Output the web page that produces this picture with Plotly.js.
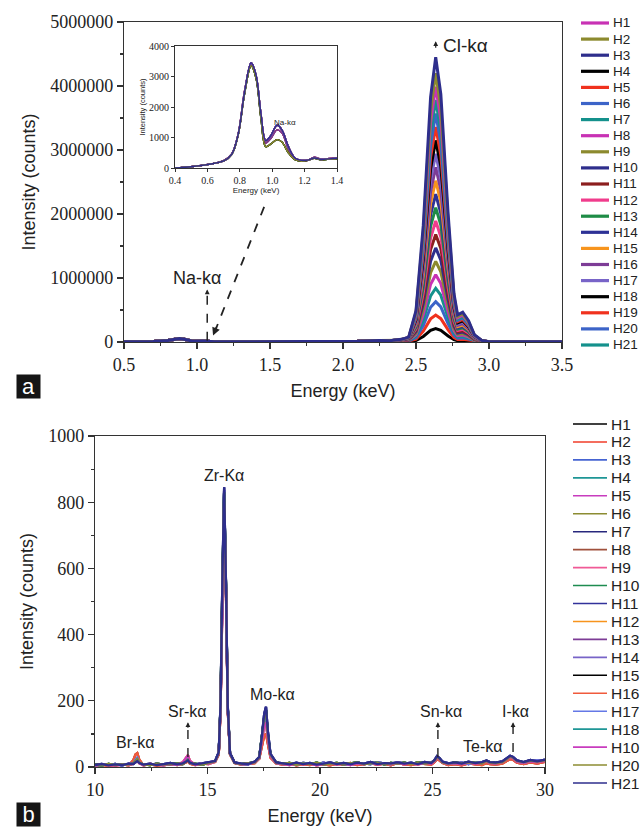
<!DOCTYPE html>
<html><head><meta charset="utf-8">
<script src="https://cdn.plot.ly/plotly-3.0.1.min.js"></script>
<style>html,body{margin:0;padding:0;background:#fff}#chart{width:642px;height:829px}</style>
</head><body><div id="chart"></div>
<script>
// ---------- Panel a : energies (keV) and intensities (thousand counts) ----------
const E_A = [0.5,0.7,0.8,0.85,0.88,0.92,0.97,1.04,1.12,1.3,1.8,2.1,2.25,2.32,2.40,2.45,2.50,2.55,2.60,2.635,2.67,2.72,2.76,2.785,2.82,2.86,2.90,2.95,3.0,3.5];
const A_H1  = [2,8,25,50,55,40,12,15,5,4,6,10,22,20,40,70,439,1636,3431,3990,3471,1796,678,379,419,299,103,23,3,2];
const A_H2  = [2,8,25,50,55,40,12,15,5,4,6,10,22,20,41,73,462,1722,3612,4200,3654,1890,714,399,441,315,108,24,3,2];
const A_H3  = [2,8,25,50,55,40,12,15,5,4,6,10,22,20,42,77,490,1825,3827,4450,3872,2003,757,423,467,334,114,25,3,2];
const A_H4  = [2,8,25,50,55,40,12,15,5,4,6,10,22,20,21,13,23,86,181,210,183,95,36,20,22,16,8,4,3,2];
const A_H5  = [2,8,25,50,55,40,12,15,5,4,6,10,22,20,22,16,46,172,361,420,365,189,71,40,44,32,14,5,3,2];
const A_H6  = [2,8,25,50,55,40,12,15,5,4,6,10,22,20,23,19,69,258,542,630,548,284,107,60,66,47,19,6,3,2];
const A_H7  = [2,8,25,50,55,40,12,15,5,4,6,10,22,20,24,23,92,344,722,840,731,378,143,80,88,63,24,7,3,2];
const A_H8  = [2,8,25,50,55,40,12,15,5,4,6,10,22,20,25,26,116,431,903,1050,914,473,179,100,110,79,29,8,3,2];
const A_H9  = [2,8,25,50,55,40,12,15,5,4,6,10,22,20,26,29,139,517,1084,1260,1096,567,214,120,132,95,35,9,3,2];
const A_H10 = [2,8,25,50,55,40,12,15,5,4,6,10,22,20,27,32,162,603,1264,1470,1279,662,250,140,154,110,40,10,3,2];
const A_H11 = [2,8,25,50,55,40,12,15,5,4,6,10,22,20,28,35,185,689,1445,1680,1462,756,286,160,176,126,45,11,3,2];
const A_H12 = [2,8,25,50,55,40,12,15,5,4,6,10,22,20,29,38,208,775,1625,1890,1644,851,321,180,198,142,50,12,3,2];
const A_H13 = [2,8,25,50,55,40,12,15,5,4,6,10,22,20,30,42,231,861,1806,2100,1827,945,357,200,221,158,56,14,3,2];
const A_H14 = [2,8,25,50,55,40,12,15,5,4,6,10,22,20,32,45,254,947,1987,2310,2010,1040,393,219,243,173,61,15,3,2];
const A_H15 = [2,8,25,50,55,40,12,15,5,4,6,10,22,20,33,48,277,1033,2167,2520,2192,1134,428,239,265,189,66,16,3,2];
const A_H16 = [2,8,25,50,55,40,12,15,5,4,6,10,22,20,34,51,300,1119,2348,2730,2375,1229,464,259,287,205,71,17,3,2];
const A_H17 = [2,8,25,50,55,40,12,15,5,4,6,10,22,20,35,54,323,1205,2528,2940,2558,1323,500,279,309,221,77,18,3,2];
const A_H18 = [2,8,25,50,55,40,12,15,5,4,6,10,22,20,36,57,347,1292,2709,3150,2741,1418,536,299,331,236,82,19,3,2];
const A_H19 = [2,8,25,50,55,40,12,15,5,4,6,10,22,20,37,60,370,1378,2890,3360,2923,1512,571,319,353,252,87,20,3,2];
const A_H20 = [2,8,25,50,55,40,12,15,5,4,6,10,22,20,38,64,393,1464,3070,3570,3106,1607,607,339,375,268,92,21,3,2];
const A_H21 = [2,8,25,50,55,40,12,15,5,4,6,10,22,20,39,67,416,1550,3251,3780,3289,1701,643,359,397,284,98,22,3,2];
const A_SERIES = [A_H1,A_H2,A_H3,A_H4,A_H5,A_H6,A_H7,A_H8,A_H9,A_H10,A_H11,A_H12,A_H13,A_H14,A_H15,A_H16,A_H17,A_H18,A_H19,A_H20,A_H21];
const A_NAMES = ['H1','H2','H3','H4','H5','H6','H7','H8','H9','H10','H11','H12','H13','H14','H15','H16','H17','H18','H19','H20','H21'];
const A_COLORS = ['#c832b4','#8c8a2e','#2e2e8c','#000000','#f0321e','#3c64c8','#14918c','#c832b4','#8c8a2e','#2e2e8c','#8c1e1e','#f03c8c','#1e8c46','#2e3296','#f7941d','#7d3c96','#7864c8','#000000','#f0321e','#3c64c8','#14918c'];

// ---------- Inset (Na region), counts ----------
const E_IN = [0.4,0.5,0.6,0.7,0.75,0.79,0.83,0.87,0.9,0.93,0.96,0.99,1.03,1.06,1.1,1.14,1.18,1.22,1.26,1.3,1.35,1.4];
const IN_HI  = [0,40,110,230,450,1100,2500,3450,3050,1800,900,1050,1400,1250,700,330,250,260,330,280,300,320];
const IN_MID = [0,45,115,240,460,1120,2550,3400,3000,1750,820,960,1250,1150,620,300,240,255,350,290,310,330];
const IN_LO  = [0,40,110,230,440,1080,2450,3350,2950,1650,700,780,930,850,500,270,220,250,320,270,290,300];
const IN_OF_SERIES = [IN_HI,IN_LO,IN_HI,IN_LO,IN_HI,IN_MID,IN_HI,IN_MID,IN_LO,IN_HI,IN_MID,IN_HI,IN_LO,IN_HI,IN_HI,IN_MID,IN_HI,IN_LO,IN_HI,IN_HI,IN_HI];

// ---------- Panel b : energies (keV) and counts ----------
const E_B = [10.0,10.3,10.6,10.9,11.2,11.5,11.7,11.8,11.88,11.97,12.15,12.45,12.75,13.05,13.35,13.65,13.9,14.04,14.13,14.22,14.45,14.75,15.05,15.34,15.5,15.58,15.66,15.74,15.82,15.9,16.0,16.2,16.5,16.8,17.1,17.3,17.42,17.52,17.6,17.68,17.8,18.05,18.35,18.65,18.95,19.25,19.55,19.85,20.15,20.45,20.75,21.05,21.35,21.65,21.95,22.25,22.55,22.85,23.15,23.45,23.75,24.05,24.35,24.65,24.95,25.1,25.2,25.3,25.45,25.7,26.0,26.3,26.6,26.9,27.2,27.4,27.55,27.8,28.1,28.3,28.45,28.58,28.75,29.05,29.35,29.65,30.0];
const B_NAVY   = [6,9,5,8,6,10, 9,14,18,12, 7,10,6,9,12,8, 11,16,20,13, 8,11,14, 18,45,190,560,845,560,185,42,14, 10,9,16, 30,95,160,182,110,40, 14, 11,8,13,9,12,7,10,14,9,12,8,13,10,15,9,12,11,14,10,13,9,15,12, 22,33,28,16,11, 14,10,16,12,15, 20,15,13, 17,26,34,30,20, 15,21,17,22];
const B_RED    = [4,7,3,6,8,5, 20,38,42,22, 5,8,4,7,10,6, 9,14,17,10, 6,9,12, 15,38,170,520,800,530,170,38,12, 7,10,12, 25,70,95,100,70,28, 11, 7,10,5,9,6,11,8,5,10,7,12,6,9,11,7,10,5,12,8,6,11,9,7, 15,24,20,12,6, 9,5,11,8,6, 12,9,7, 10,18,24,22,13, 9,14,10,16];
const B_ORANGE = [5,8,6,4,7,6, 10,16,20,11, 6,9,7,5,9,7, 14,28,36,18, 7,10,9, 16,40,175,530,790,540,175,40,13, 8,11,13, 26,80,125,135,85,32, 12, 9,6,11,8,10,5,9,12,7,10,6,11,8,13,7,10,9,12,8,11,7,13,10, 18,28,24,13,9, 12,8,13,10,12, 16,12,10, 14,22,30,26,16, 12,17,14,19];
const B_GREEN  = [7,5,9,6,8,7, 11,18,24,13, 8,6,10,7,9,10, 9,18,22,12, 9,7,12, 17,42,185,545,830,555,180,41,13, 9,12,14, 28,90,150,172,100,36, 13, 10,12,7,11,9,13,8,11,12,8,10,14,9,11,13,8,12,10,13,9,14,11,13, 20,30,26,14,10, 13,11,14,13,11, 18,13,12, 15,24,32,28,18, 14,19,16,20];
const B_BLUE   = [5,7,6,9,5,8, 12,22,28,14, 6,8,9,6,10,7, 10,20,25,12, 8,10,11, 17,43,182,550,835,550,178,40,13, 9,8,15, 28,88,140,160,95,35, 12, 9,11,8,12,10,8,13,9,11,10,7,12,11,9,14,10,8,13,11,12,10,12,14, 19,30,25,14,12, 11,13,9,14,13, 17,14,11, 16,24,31,27,17, 13,18,20,18];
const B_OF_SERIES = [B_BLUE,B_RED,B_BLUE,B_GREEN,B_ORANGE,B_GREEN,B_NAVY,B_RED,B_ORANGE,B_GREEN,B_NAVY,B_ORANGE,B_BLUE,B_BLUE,B_GREEN,B_RED,B_BLUE,B_GREEN,B_ORANGE,B_GREEN,B_NAVY];
const B_NAMES = ['H1','H2','H3','H4','H5','H6','H7','H8','H9','H10','H11','H12','H13','H14','H15','H16','H17','H18','H10','H20','H21'];
const B_COLORS = ['#000000','#f03c28','#4664d2','#1e9696','#c83cbe','#8c8c32','#28287d','#a0503c','#f05a96','#1e8c50','#32329b','#f7941d','#7d3c96','#7864c8','#000000','#f05a3c','#6478e6','#1e9696','#c83cbe','#8c8c32','#2e2e8c'];

// ---------- helpers (layout only) ----------
const W = 642, H = 829;
const px = v => v / W;
const py = v => 1 - v / H;
const SERIF = '"Liberation Serif","Times New Roman",serif';
const SANS = '"Liberation Sans",Arial,sans-serif';
const INK = '#222';
// drawing order for panel a: smaller peaks first, the tallest (H3) on top
const A_DRAW_ORDER = [3,4,5,6,7,8,9,10,11,12,13,14,15,16,17,18,19,20,0,1,2];

const traces = [];
A_DRAW_ORDER.forEach(i => traces.push({
  type: 'scatter', mode: 'lines', x: E_A, y: A_SERIES[i].map(v => v * 1000), name: A_NAMES[i],
  xaxis: 'x', yaxis: 'y', line: {color: A_COLORS[i], width: 3}, showlegend: false
}));
A_DRAW_ORDER.forEach(i => traces.push({
  type: 'scatter', mode: 'lines', x: E_IN, y: IN_OF_SERIES[i], name: A_NAMES[i],
  xaxis: 'x2', yaxis: 'y2', line: {color: A_COLORS[i], width: 1.4, shape: 'spline'}, showlegend: false
}));
B_OF_SERIES.forEach((s, i) => traces.push({
  type: 'scatter', mode: 'lines', x: E_B, y: s, name: B_NAMES[i],
  xaxis: 'x3', yaxis: 'y3', line: {color: B_COLORS[i], width: 2.3}, showlegend: false
}));

function baseAxis(extra) {
  return Object.assign({
    showline: true, linecolor: '#333', linewidth: 1.2, mirror: true,
    ticks: 'outside', ticklen: 6, tickwidth: 1.2, tickcolor: '#333',
    showgrid: false, zeroline: false, tickfont: {family: SERIF, size: 18, color: INK}
  }, extra);
}
function innerAxis(extra) {
  return Object.assign({
    showline: false, ticks: 'inside', ticklen: 6, tickwidth: 1.2, tickcolor: '#333',
    showticklabels: false, showgrid: false, zeroline: false
  }, extra);
}

const shapes = [];
const annotations = [];

// custom legends
A_NAMES.forEach((n, i) => {
  const y = py(23 + 16.1 * i);
  shapes.push({type: 'line', xref: 'paper', yref: 'paper', x0: px(581), x1: px(609), y0: y, y1: y, line: {color: A_COLORS[i], width: 3.2}});
  annotations.push({xref: 'paper', yref: 'paper', x: px(611), y: y, text: n, showarrow: false, xanchor: 'left', yanchor: 'middle', font: {family: SANS, size: 13.5, color: INK}});
});
B_NAMES.forEach((n, i) => {
  const y = py(424 + 17.95 * i);
  shapes.push({type: 'line', xref: 'paper', yref: 'paper', x0: px(573), x1: px(607), y0: y, y1: y, line: {color: B_COLORS[i], width: 1.6}});
  annotations.push({xref: 'paper', yref: 'paper', x: px(609), y: y, text: n, showarrow: false, xanchor: 'left', yanchor: 'middle', font: {family: SANS, size: 15.5, color: INK}});
});

// panel a labels & arrows
annotations.push({xref: 'x', yref: 'y', x: 2.84, y: 4.64e6, text: 'Cl-kα', showarrow: false, font: {family: SANS, size: 19, color: INK}});
annotations.push({xref: 'x', yref: 'y', x: 2.635, y: 4.7e6, ax: 0, ay: 8, text: '', showarrow: true, arrowhead: 2, arrowsize: 0.8, arrowwidth: 1.2, arrowcolor: INK});
annotations.push({xref: 'x', yref: 'y', x: 1.0, y: 1.0e6, text: 'Na-kα', showarrow: false, font: {family: SANS, size: 18, color: INK}});
shapes.push({type: 'line', xref: 'x', yref: 'y', x0: 1.07, x1: 1.07, y0: 0.02e6, y1: 0.8e6, line: {color: INK, width: 1.5, dash: 'dash'}});
annotations.push({xref: 'x', yref: 'y', x: 1.07, y: 0.82e6, ax: 0, ay: 6, text: '', showarrow: true, arrowhead: 2, arrowsize: 0.8, arrowwidth: 1.2, arrowcolor: INK});
shapes.push({type: 'line', xref: 'x', yref: 'y', x0: 1.12, x1: 1.47, y0: 0.15e6, y1: 2.17e6, line: {color: INK, width: 1.8, dash: 'dash'}});
annotations.push({xref: 'x', yref: 'y', x: 1.11, y: 0.1e6, ax: 4, ay: -10, text: '', showarrow: true, arrowhead: 2, arrowsize: 1, arrowwidth: 1.6, arrowcolor: INK});
annotations.push({xref: 'x2', yref: 'y2', x: 1.08, y: 1500, text: 'Na-kα', showarrow: false, font: {family: SANS, size: 8, color: INK}});
annotations.push({xref: 'paper', yref: 'paper', x: px(16), y: py(386), text: 'a', showarrow: false, bgcolor: '#151515', width: 23, height: 23, borderpad: 0, font: {family: SANS, size: 22, color: '#fff'}});

// panel b labels & arrows
annotations.push({xref: 'x3', yref: 'y3', x: 15.73, y: 880, text: 'Zr-Kα', showarrow: false, font: {family: SANS, size: 16, color: INK}});
annotations.push({xref: 'x3', yref: 'y3', x: 17.91, y: 220, text: 'Mo-kα', showarrow: false, font: {family: SANS, size: 16, color: INK}});
annotations.push({xref: 'x3', yref: 'y3', x: 11.82, y: 75, text: 'Br-kα', showarrow: false, font: {family: SANS, size: 16, color: INK}});
annotations.push({xref: 'x3', yref: 'y3', x: 14.13, y: 169, text: 'Sr-kα', showarrow: false, font: {family: SANS, size: 16, color: INK}});
annotations.push({xref: 'x3', yref: 'y3', x: 25.38, y: 169, text: 'Sn-kα', showarrow: false, font: {family: SANS, size: 16, color: INK}});
annotations.push({xref: 'x3', yref: 'y3', x: 27.24, y: 63, text: 'Te-kα', showarrow: false, font: {family: SANS, size: 16, color: INK}});
annotations.push({xref: 'x3', yref: 'y3', x: 28.71, y: 169, text: 'I-kα', showarrow: false, font: {family: SANS, size: 16, color: INK}});
[[14.13, 30], [25.24, 30], [28.58, 45]].forEach(([x, y0]) => {
  shapes.push({type: 'line', xref: 'x3', yref: 'y3', x0: x, x1: x, y0: y0, y1: 125, line: {color: INK, width: 1.4, dash: 'dash'}});
  annotations.push({xref: 'x3', yref: 'y3', x: x, y: 135, ax: 0, ay: 7, text: '', showarrow: true, arrowhead: 2, arrowsize: 0.8, arrowwidth: 1.2, arrowcolor: INK});
});
annotations.push({xref: 'paper', yref: 'paper', x: px(16), y: py(827), text: 'b', showarrow: false, bgcolor: '#151515', width: 23, height: 23, borderpad: 0, font: {family: SANS, size: 22, color: '#fff'}});

const layout = {
  width: W, height: H, margin: {l: 0, r: 0, t: 0, b: 0},
  paper_bgcolor: '#fff', plot_bgcolor: '#fff', showlegend: false, hovermode: false,
  xaxis: baseAxis({domain: [px(124), px(562)], range: [0.5, 3.5], anchor: 'y', dtick: 0.5, tick0: 0.5, tickformat: '.1f',
    minor: {ticks: 'outside', ticklen: 3, dtick: 0.25, tick0: 0.5, tickcolor: '#333'},
    title: {text: 'Energy (keV)', font: {family: SANS, size: 18, color: INK}, standoff: 10}}),
  yaxis: baseAxis({domain: [py(342), py(22)], range: [0, 5e6], anchor: 'x', dtick: 1e6, tickformat: 'd',
    minor: {ticks: 'outside', ticklen: 3, dtick: 5e5, tickcolor: '#333'},
    title: {text: 'Intensity (counts)', font: {family: SANS, size: 18, color: INK}, standoff: 10}}),
  xaxis4: innerAxis({overlaying: 'x', side: 'top', anchor: 'y', range: [0.5, 3.5], dtick: 0.5, tick0: 0.5,
    minor: {ticks: 'inside', ticklen: 3, dtick: 0.25, tick0: 0.5, tickcolor: '#333'}}),
  yaxis4: innerAxis({overlaying: 'y', side: 'right', anchor: 'x', range: [0, 5e6], dtick: 1e6,
    minor: {ticks: 'inside', ticklen: 3, dtick: 5e5, tickcolor: '#333'}}),
  xaxis2: baseAxis({domain: [px(175), px(337)], range: [0.4, 1.4], anchor: 'y2', dtick: 0.2, tick0: 0.4, tickformat: '.1f', ticklen: 3, linewidth: 1, tickwidth: 1,
    tickfont: {family: SERIF, size: 10, color: INK},
    title: {text: 'Energy (keV)', font: {family: SANS, size: 8, color: INK}, standoff: 2}}),
  yaxis2: baseAxis({domain: [py(168), py(46)], range: [0, 4000], anchor: 'x2', dtick: 1000, ticklen: 3, linewidth: 1, tickwidth: 1,
    tickfont: {family: SERIF, size: 10, color: INK},
    title: {text: 'Intensity (counts)', font: {family: SANS, size: 7.5, color: INK}, standoff: 2}}),
  xaxis3: baseAxis({domain: [px(95), px(545)], range: [10, 30], anchor: 'y3', dtick: 5, tick0: 10,
    minor: {ticks: 'outside', ticklen: 3, dtick: 2.5, tick0: 10, tickcolor: '#333'},
    title: {text: 'Energy (keV)', font: {family: SANS, size: 18, color: INK}, standoff: 10}}),
  yaxis3: baseAxis({domain: [py(767), py(436)], range: [0, 1000], anchor: 'x3', dtick: 200,
    minor: {ticks: 'outside', ticklen: 3, dtick: 100, tickcolor: '#333'},
    title: {text: 'Intensity (counts)', font: {family: SANS, size: 18, color: INK}, standoff: 10}}),
  xaxis5: innerAxis({overlaying: 'x3', side: 'top', anchor: 'y3', range: [10, 30], dtick: 5, tick0: 10,
    minor: {ticks: 'inside', ticklen: 3, dtick: 2.5, tick0: 10, tickcolor: '#333'}}),
  yaxis5: innerAxis({overlaying: 'y3', side: 'right', anchor: 'x3', range: [0, 1000], dtick: 200,
    minor: {ticks: 'inside', ticklen: 3, dtick: 100, tickcolor: '#333'}}),
  shapes: shapes,
  annotations: annotations
};

Plotly.newPlot('chart', traces, layout, {staticPlot: true, displayModeBar: false});
</script>
</body></html>
